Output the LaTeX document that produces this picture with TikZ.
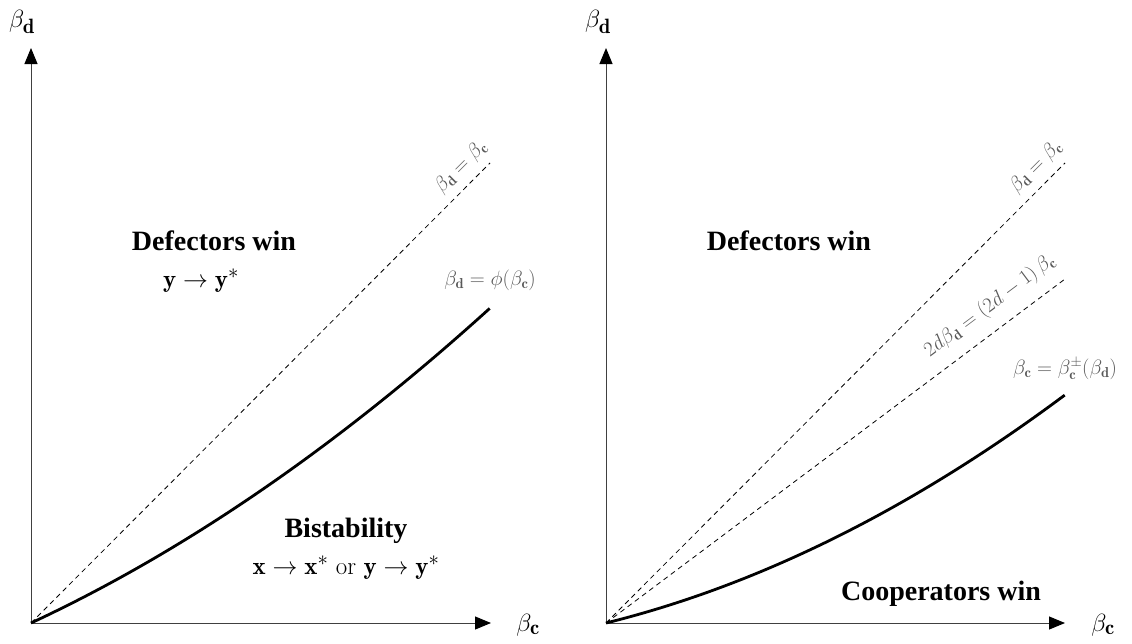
\documentclass[tikz,border=0pt]{standalone}
\usepackage{fontspec}
\newfontfamily\boldserif{Liberation Serif}[BoldFont={Liberation Serif Bold}]
\usetikzlibrary{arrows.meta}
\begin{document}
\begin{tikzpicture}[x=1pt,y=-1pt,
  axis/.style={line width=1pt, draw=black!75, -{Triangle[length=16pt,width=13pt,color=black]}},
  dashline/.style={line width=0.8pt, dash pattern=on 5pt off 4pt},
  curve/.style={line width=2.8pt, line join=round},
  glabel/.style={text=black!65, inner sep=0pt, font=\fontsize{20.74}{25}\selectfont},
  axlabel/.style={inner sep=0pt, font=\fontsize{24.88}{30}\selectfont},
  region/.style={inner sep=0pt, anchor=base, font=\boldserif\bfseries\fontsize{28}{32}\selectfont},
  mathlabel/.style={inner sep=0pt, font=\fontsize{24.88}{28}\selectfont}]
\useasboundingbox (0,0) rectangle (1132,643);
% ---------- left panel ----------
\coordinate (O1) at (31,623);
\coordinate (Y1) at (31,48);
\coordinate (X1) at (491,623);
\coordinate (D1) at (490,163);
\draw[axis] (O1) -- (Y1);
\draw[axis] (O1) -- (X1);
\draw[dashline] (O1) -- (D1);
\draw[curve] plot[domain=0:1,samples=60] ({31+459*\x},{623-459*(0.466*\x+0.22*\x*\x)});
\node[axlabel] (bd1) at (22,22) {$\beta_{\mathbf{d}}$};
\node[axlabel] (bc1) at (528,625) {$\beta_{\mathbf{c}}$};
\node[glabel, rotate=45] (l1) at (461,167) {$\beta_{\mathbf{d}} = \beta_{\mathbf{c}}$};
\node[glabel] (l2) at (490,280) {$\beta_{\mathbf{d}} = \phi(\beta_{\mathbf{c}})$};
\node[region] (dw1) at (214,250) {Defectors win};
\node[mathlabel] (yy1) at (201,281) {$\mathbf{y}\to\mathbf{y}^*$};
\node[region] (bis) at (346,537) {Bistability};
\node[mathlabel] (xy) at (346,568) {$\mathbf{x}\to\mathbf{x}^*$ or $\mathbf{y}\to\mathbf{y}^*$};
% ---------- right panel ----------
\coordinate (O2) at (606,623);
\coordinate (Y2) at (606,48);
\coordinate (X2) at (1065,623);
\coordinate (D2) at (1065,163);
\coordinate (D3) at (1065,279);
\draw[axis] (O2) -- (Y2);
\draw[axis] (O2) -- (X2);
\draw[dashline] (O2) -- (D2);
\draw[dashline] (O2) -- (D3);
\draw[curve] plot[domain=0:1,samples=60] ({606+459*\x},{623-459*(0.248*\x+0.249*\x*\x)});
\node[axlabel] (bd2) at (598,22) {$\beta_{\mathbf{d}}$};
\node[axlabel] (bc2) at (1103,625) {$\beta_{\mathbf{c}}$};
\node[glabel, rotate=45] (l3) at (1036,167) {$\beta_{\mathbf{d}} = \beta_{\mathbf{c}}$};
\node[glabel, rotate=36.87] (l4) at (990,306) {$2d\beta_{\mathbf{d}} = (2d-1)\,\beta_{\mathbf{c}}$};
\node[glabel] (l5) at (1065,369) {$\beta_{\mathbf{c}} = \beta_{\mathbf{c}}^{\pm}(\beta_{\mathbf{d}})$};
\node[region] (dw2) at (789,250) {Defectors win};
\node[region] (cw) at (941,600) {Cooperators win};
\end{tikzpicture}
\end{document}
